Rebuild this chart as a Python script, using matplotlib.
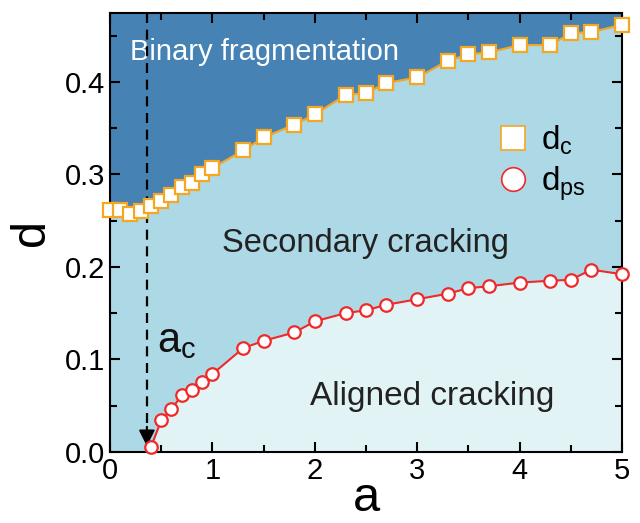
import matplotlib
matplotlib.use('Agg')
import matplotlib.pyplot as plt
from matplotlib.lines import Line2D

plt.rcParams['font.family'] = ['Liberation Sans', 'DejaVu Sans']
plt.rcParams['mathtext.fontset'] = 'custom'
plt.rcParams['mathtext.rm'] = 'Liberation Sans'
plt.rcParams['mathtext.it'] = 'Liberation Sans'

# critical point curve d_c
a_c_pts = [0, 0.1, 0.2, 0.3, 0.4, 0.5, 0.6, 0.7, 0.8, 0.9, 1.0, 1.3, 1.5, 1.8, 2.0,
           2.3, 2.5, 2.7, 3.0, 3.3, 3.5, 3.7, 4.0, 4.3, 4.5, 4.7, 5.0]
d_c = [0.261, 0.261, 0.257, 0.260, 0.266, 0.271, 0.278, 0.286, 0.291, 0.300, 0.307,
       0.326, 0.340, 0.354, 0.365, 0.386, 0.388, 0.399, 0.405, 0.423, 0.430, 0.432,
       0.440, 0.440, 0.453, 0.454, 0.462]

# secondary cracking onset d_ps
a_ps = [0.4, 0.5, 0.6, 0.7, 0.8, 0.9, 1.0, 1.3, 1.5, 1.8, 2.0, 2.3, 2.5,
        2.7, 3.0, 3.3, 3.5, 3.7, 4.0, 4.3, 4.5, 4.7, 5.0]
d_ps = [0.005, 0.034, 0.046, 0.061, 0.067, 0.075, 0.084, 0.112, 0.120, 0.129, 0.141,
        0.150, 0.153, 0.159, 0.165, 0.171, 0.177, 0.179, 0.183, 0.185, 0.186, 0.197, 0.192]

a_crit = 0.36

dark = '#4682B4'
light = '#ADD8E6'
pale = '#E2F3F6'
orange = '#F5A623'
red = '#EE2A2A'

fig = plt.figure(figsize=(6.4, 5.23), dpi=100)
ax = fig.add_axes([0.1719, 0.1363, 0.8, 0.8394])
ax.set_facecolor(dark)
ax.fill_between(a_c_pts, 0, d_c, color=light, lw=0)
ax.fill_between(a_ps, 0, d_ps, color=pale, lw=0)

ax.plot(a_c_pts, d_c, '-s', color=orange, lw=1.5, ms=9.5, mfc='white', mec=orange,
        mew=1.6, clip_on=False, zorder=5)
ax.plot(a_ps, d_ps, '-o', color=red, lw=1.5, ms=9, mfc='white', mec=red,
        mew=1.6, clip_on=False, zorder=5)

# dashed arrow at a_c
ax.plot([a_crit, a_crit], [0.475, 0.025], color='k', lw=1.6, dashes=(4.5, 3), zorder=4)
ax.annotate('', xy=(a_crit, 0.003), xytext=(a_crit, 0.03),
            arrowprops=dict(arrowstyle='-|>', color='k', lw=1.5, mutation_scale=24),
            zorder=4)

ax.text(0.2, 0.424, 'Binary fragmentation', color='white', fontsize=21)
ax.text(1.09, 0.2165, 'Secondary cracking', color='#222222', fontsize=23.5)
ax.text(1.95, 0.0505, 'Aligned cracking', color='#222222', fontsize=24)
ax.text(0.456, 0.108, r'a$_\mathregular{c}$', color='#111111', fontsize=30)

handles = [Line2D([], [], ls='none', marker='s', ms=17, mfc='white', mec=orange, mew=1.2),
           Line2D([], [], ls='none', marker='o', ms=17, mfc='white', mec=red, mew=1.2)]
ax.legend(handles, [r'$\mathregular{d_c}$', r'$\mathregular{d_{ps}}$'], frameon=False,
          fontsize=24, loc='center left', bbox_to_anchor=(0.754, 0.657),
          handlelength=1.0, handletextpad=0.35, labelspacing=0.2, borderpad=0,
          borderaxespad=0)

ax.set_xlim(0, 5)
ax.set_ylim(0, 0.475)
ax.set_xticks([0, 1, 2, 3, 4, 5])
ax.set_xticks([0.5, 1.5, 2.5, 3.5, 4.5], minor=True)
ax.set_yticks([0.0, 0.1, 0.2, 0.3, 0.4])
ax.set_yticks([0.05, 0.15, 0.25, 0.35, 0.45], minor=True)
ax.set_yticklabels(['0.0', '0.1', '0.2', '0.3', '0.4'])
ax.tick_params(which='both', direction='in', top=True, right=True, labelsize=21, width=1.5)
ax.tick_params(which='major', length=7)
ax.tick_params(which='minor', length=5)
for s in ax.spines.values():
    s.set_linewidth(1.5)

ax.set_xlabel('a', fontsize=35, labelpad=-6)
ax.set_ylabel('d', fontsize=35, labelpad=8)

fig.savefig('out.png', dpi=100)
